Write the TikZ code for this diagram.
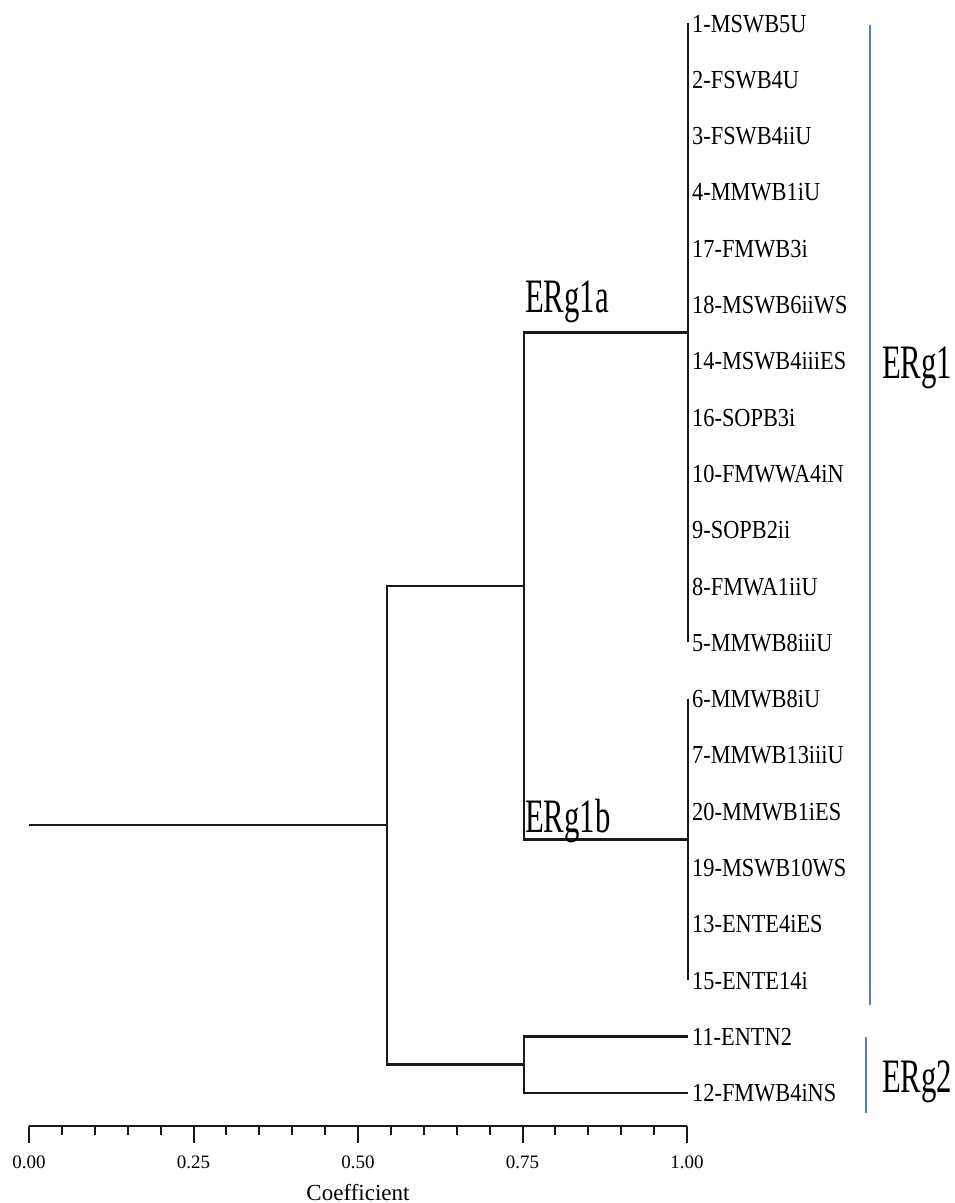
\documentclass[tikz,border=0pt]{standalone}
\usepackage{fontspec}
\setmainfont{Liberation Serif}
\newfontfamily\leaffont[FakeStretch=0.86]{Liberation Serif}
\newfontfamily\tagfont[FakeStretch=0.64]{Liberation Serif}
\usepackage{tikz}
\usetikzlibrary{positioning}
\usetikzlibrary{calc}
\definecolor{grpblue}{RGB}{85,120,210}
\tikzset{
    leaf/.style={
           anchor=west,
           inner sep=0pt,
           text height=18pt,
           text depth=0pt,
           font=\leaffont\fontsize{26}{28}\selectfont
           },
    branch/.style={
           draw=black!90,
           line width=2.4pt
           },
    tick/.style={
           draw=black!90,
           line width=2pt
           },
    ticklabel/.style={
           anchor=north,
           yshift=-11.5pt,
           inner sep=0pt,
           text height=13pt,
           text depth=0pt,
           font=\fontsize{19}{21}\selectfont
           },
    grouptag/.style={
           anchor=base west,
           inner sep=0pt,
           font=\tagfont\fontsize{48}{50}\selectfont
           },
    groupline/.style={
           draw=grpblue,
           line width=1.4pt
           },
}

\begin{document}
\begin{tikzpicture}[x=1pt, y=-1pt, node distance=56.3pt, on grid]
  \useasboundingbox (0,0) rectangle (954,1203);
  % leaves, top to bottom
  \node[leaf] (n1) at (692,23) {1-MSWB5U};
  \node[below=of n1.west, leaf]  (n2)  {2-FSWB4U};
  \node[below=of n2.west, leaf]  (n3)  {3-FSWB4iiU};
  \node[below=of n3.west, leaf]  (n4)  {4-MMWB1iU};
  \node[below=of n4.west, leaf]  (n17) {17-FMWB3i};
  \node[below=of n17.west, leaf] (n18) {18-MSWB6iiWS};
  \node[below=of n18.west, leaf] (n14) {14-MSWB4iiiES};
  \node[below=of n14.west, leaf] (n16) {16-SOPB3i};
  \node[below=of n16.west, leaf] (n10) {10-FMWWA4iN};
  \node[below=of n10.west, leaf] (n9)  {9-SOPB2ii};
  \node[below=of n9.west, leaf]  (n8)  {8-FMWA1iiU};
  \node[below=of n8.west, leaf]  (n5)  {5-MMWB8iiiU};
  \node[below=of n5.west, leaf]  (n6)  {6-MMWB8iU};
  \node[below=of n6.west, leaf]  (n7)  {7-MMWB13iiiU};
  \node[below=of n7.west, leaf]  (n20) {20-MMWB1iES};
  \node[below=of n20.west, leaf] (n19) {19-MSWB10WS};
  \node[below=of n19.west, leaf] (n13) {13-ENTE4iES};
  \node[below=of n13.west, leaf] (n15) {15-ENTE14i};
  \node[below=of n15.west, leaf] (n11) {11-ENTN2};
  \node[below=of n11.west, leaf] (n12) {12-FMWB4iNS};

  % coefficient levels of the joins
  \coordinate (xl) at (688,0);
  \coordinate (xa) at (524,0);
  \coordinate (xr) at (387,0);
  \coordinate (xo) at (29,0);
  \coordinate (h1a) at ($(n1.west)!0.5!(n5.west)$);
  \coordinate (h1b) at ($(n6.west)!0.5!(n15.west)$);
  \coordinate (h1)  at ($(h1a)!0.5!(h1b)$);
  \coordinate (h2)  at ($(n11.west)!0.5!(n12.west)$);
  \coordinate (h0)  at ($(h1)!0.5!(h2)$);

  \draw[branch] (n1.west -| xl) -- (n5.west -| xl);
  \draw[branch] (n6.west -| xl) -- (n15.west -| xl);
  \draw[branch] (h1a -| xl) -- (h1a -| xa) -- (h1b -| xa) -- (h1b -| xl);
  \draw[branch] (n11.west -| xl) -- (n11.west -| xa) -- (n12.west -| xa) -- (n12.west -| xl);
  \draw[branch] (h1 -| xa) -- (h1 -| xr) -- (h2 -| xr) -- (h2 -| xa);
  \draw[branch] (h0 -| xr) -- (h0 -| xo);

  % sub-cluster tags
  \node[grouptag] (erg1a) at (525,312) {ERg1a};
  \node[grouptag] (erg1b) at (525,832) {ERg1b};

  % groups
  \coordinate (g1top) at (870,25);
  \coordinate (g1bot) at (870,1005);
  \coordinate (g2top) at (866,1037);
  \coordinate (g2bot) at (866,1113);
  \draw[groupline] (g1top) -- (g1bot);
  \draw[groupline] (g2top) -- (g2bot);
  \node[grouptag] (erg1) at (882,378)  {ERg1};
  \node[grouptag] (erg2) at (882,1092) {ERg2};

  % axis
  \coordinate (a0) at (29,1126);
  \coordinate (a1) at (687,1126);
  \draw[branch] (a0) -- (a1);
  \foreach \i in {0,...,20}
    \draw[tick] ($(a0)!\i/20!(a1)$) -- ++(0,9);
  \foreach \i/\v in {0/0.00,5/0.25,10/0.50,15/0.75,20/1.00}
    \draw[tick] ($(a0)!\i/20!(a1)$) -- ++(0,17) node[ticklabel] (t\i) {\v};
  \node[anchor=base, inner sep=0pt, font=\fontsize{23}{25}\selectfont] (coef) at (358,1200) {Coefficient};
\end{tikzpicture}
\end{document}
